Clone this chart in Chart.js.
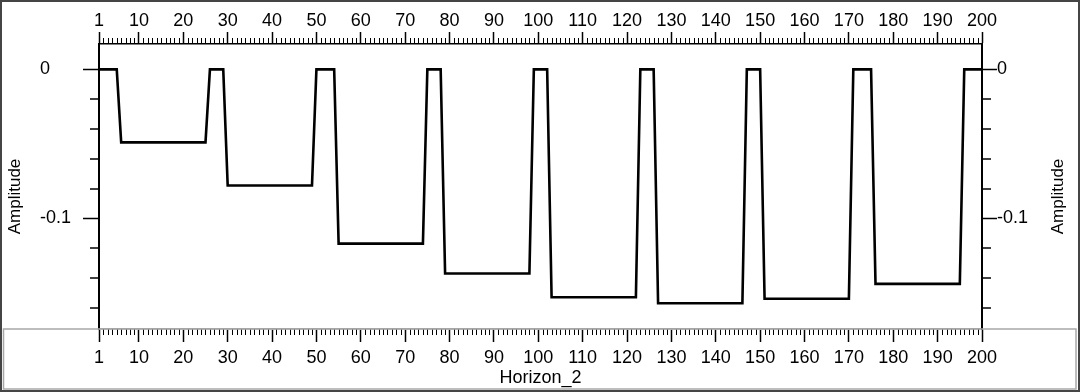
<!DOCTYPE html>
<html>
<head>
<meta charset="utf-8">
<script src="https://cdn.jsdelivr.net/npm/chart.js@4"></script>
<style>
  html, body { margin: 0; padding: 0; background: #fff; }
  canvas { display: block; }
</style>
</head>
<body>
<canvas id="horizonChart" width="1080" height="392"></canvas>
<script>
// trace numbers along the horizon
const traces = Array.from({ length: 200 }, (_, i) => i + 1);

// amplitude, one value per trace (1..200)
const amplitude = [
    0, 0, 0, 0, 0, -0.049, -0.049, -0.049, -0.049, -0.049,
    -0.049, -0.049, -0.049, -0.049, -0.049, -0.049, -0.049, -0.049, -0.049, -0.049,
    -0.049, -0.049, -0.049, -0.049, -0.049, 0, 0, 0, 0, -0.078,
    -0.078, -0.078, -0.078, -0.078, -0.078, -0.078, -0.078, -0.078, -0.078, -0.078,
    -0.078, -0.078, -0.078, -0.078, -0.078, -0.078, -0.078, -0.078, -0.078, 0,
    0, 0, 0, 0, -0.117, -0.117, -0.117, -0.117, -0.117, -0.117,
    -0.117, -0.117, -0.117, -0.117, -0.117, -0.117, -0.117, -0.117, -0.117, -0.117,
    -0.117, -0.117, -0.117, -0.117, 0, 0, 0, 0, -0.137, -0.137,
    -0.137, -0.137, -0.137, -0.137, -0.137, -0.137, -0.137, -0.137, -0.137, -0.137,
    -0.137, -0.137, -0.137, -0.137, -0.137, -0.137, -0.137, -0.137, 0, 0,
    0, 0, -0.153, -0.153, -0.153, -0.153, -0.153, -0.153, -0.153, -0.153,
    -0.153, -0.153, -0.153, -0.153, -0.153, -0.153, -0.153, -0.153, -0.153, -0.153,
    -0.153, -0.153, 0, 0, 0, 0, -0.157, -0.157, -0.157, -0.157,
    -0.157, -0.157, -0.157, -0.157, -0.157, -0.157, -0.157, -0.157, -0.157, -0.157,
    -0.157, -0.157, -0.157, -0.157, -0.157, -0.157, 0, 0, 0, 0,
    -0.154, -0.154, -0.154, -0.154, -0.154, -0.154, -0.154, -0.154, -0.154, -0.154,
    -0.154, -0.154, -0.154, -0.154, -0.154, -0.154, -0.154, -0.154, -0.154, -0.154,
    0, 0, 0, 0, 0, -0.144, -0.144, -0.144, -0.144, -0.144,
    -0.144, -0.144, -0.144, -0.144, -0.144, -0.144, -0.144, -0.144, -0.144, -0.144,
    -0.144, -0.144, -0.144, -0.144, -0.144, 0, 0, 0, 0, 0
];

const xTickVals = [1, 10, 20, 30, 40, 50, 60, 70, 80, 90, 100, 110, 120, 130, 140, 150, 160, 170, 180, 190, 200];
const yTickVals = [0, -0.1];
const yTickLabels = ['0', '-0.1'];
const yMinorVals = [-0.02, -0.04, -0.06, -0.08, -0.12, -0.14, -0.16];
const xTitle = 'Horizon_2';
const yTitle = 'Amplitude';

const FONT = 'Liberation Sans, Arial, sans-serif';
Chart.defaults.font.family = FONT;
Chart.defaults.font.size = 18;
Chart.defaults.color = '#000';

const xRange = { min: 1, max: 200 };
const yRange = { min: -0.1743, max: 0.0170 };

function setXTicks(scale) {
    scale.ticks = xTickVals.map(v => ({ value: v }));
}
function setYTicks(scale) {
    scale.ticks = yTickVals.map(v => ({ value: v }));
}

// minor ticks, side titles and the frames
const decorations = {
    id: 'decorations',
    afterDraw(chart) {
        const { ctx, scales } = chart;
        const { x, x2, y, y2 } = scales;
        const line = (x0, y0, x1, y1) => {
            ctx.beginPath();
            ctx.moveTo(x0, y0);
            ctx.lineTo(x1, y1);
            ctx.stroke();
        };
        ctx.save();
        ctx.strokeStyle = '#000';
        ctx.lineWidth = 1;
        traces.forEach(v => {
            if (xTickVals.includes(v)) return;
            const px = Math.round(x.getPixelForValue(v)) + 0.5;
            line(px, x.top, px, x.top + 6);
            line(px, x2.bottom, px, x2.bottom - 6);
        });
        ctx.lineWidth = 1.5;
        yMinorVals.forEach(v => {
            const py = Math.round(y.getPixelForValue(v));
            line(y.right - 9, py, y.right, py);
            line(y2.left, py, y2.left + 9, py);
        });

        // rotated titles on both sides, reading bottom to top
        ctx.fillStyle = '#000';
        ctx.font = '17px ' + FONT;
        ctx.textAlign = 'center';
        ctx.textBaseline = 'middle';
        const midY = (chart.chartArea.top + chart.chartArea.bottom) / 2 + 10;
        [15, 1058].forEach(tx => {
            ctx.save();
            ctx.translate(tx, midY);
            ctx.rotate(-Math.PI / 2);
            ctx.fillText(yTitle, 0, 0);
            ctx.restore();
        });

        // lower box and outer frame
        ctx.strokeStyle = '#a8a8a8';
        ctx.lineWidth = 1.5;
        ctx.strokeRect(3.5, 329, 1072.5, 60);
        ctx.strokeStyle = '#454545';
        ctx.lineWidth = 2;
        ctx.strokeRect(1, 1, 1078, 390);
        ctx.restore();
    }
};

new Chart(document.getElementById('horizonChart'), {
    type: 'line',
    data: {
        datasets: [{
            label: yTitle,
            data: traces.map((t, i) => ({ x: t, y: amplitude[i] })),
            borderColor: '#000',
            borderWidth: 2.6,
            pointRadius: 0,
            tension: 0,
            fill: false,
            xAxisID: 'x',
            yAxisID: 'y'
        }]
    },
    options: {
        responsive: false,
        animation: false,
        layout: { padding: { left: 40, right: 0, top: 0, bottom: 0 } },
        scales: {
            x: {
                type: 'linear',
                position: 'bottom',
                min: xRange.min,
                max: xRange.max,
                afterBuildTicks: setXTicks,
                afterFit: s => { s.height = 63; },
                ticks: { autoSkip: false, maxRotation: 0, minRotation: 0, padding: 5 },
                grid: { drawOnChartArea: false, tickLength: 13, tickColor: '#000', tickWidth: 1.5, color: '#000' },
                border: { display: true, color: '#a0a0a0', width: 1.5 },
                title: { display: true, text: xTitle, font: { size: 18 }, padding: { top: 0, bottom: 3 } }
            },
            x2: {
                type: 'linear',
                position: 'top',
                min: xRange.min,
                max: xRange.max,
                afterBuildTicks: setXTicks,
                afterFit: s => { s.height = 44; },
                ticks: { autoSkip: false, maxRotation: 0, minRotation: 0, padding: 0 },
                grid: { drawOnChartArea: false, tickLength: 12, tickColor: '#000', tickWidth: 1.5, color: '#000' },
                border: { display: true, color: '#000', width: 1.5 }
            },
            y: {
                type: 'linear',
                position: 'left',
                min: yRange.min,
                max: yRange.max,
                afterBuildTicks: setYTicks,
                afterFit: s => { s.width = 59; },
                ticks: { crossAlign: 'far', callback: (v, i) => yTickLabels[i] },
                grid: { drawOnChartArea: false, tickLength: 16, tickColor: '#000', tickWidth: 1.5, color: '#000' },
                border: { display: true, color: '#000', width: 2 }
            },
            y2: {
                type: 'linear',
                position: 'right',
                min: yRange.min,
                max: yRange.max,
                afterBuildTicks: setYTicks,
                afterFit: s => { s.width = 98; },
                ticks: { padding: 0, callback: (v, i) => yTickLabels[i] },
                grid: { drawOnChartArea: false, tickLength: 15, tickColor: '#000', tickWidth: 1.5, color: '#000' },
                border: { display: true, color: '#000', width: 2 }
            }
        },
        plugins: {
            legend: { display: false },
            tooltip: { enabled: false }
        }
    },
    plugins: [decorations]
});
</script>
</body>
</html>
